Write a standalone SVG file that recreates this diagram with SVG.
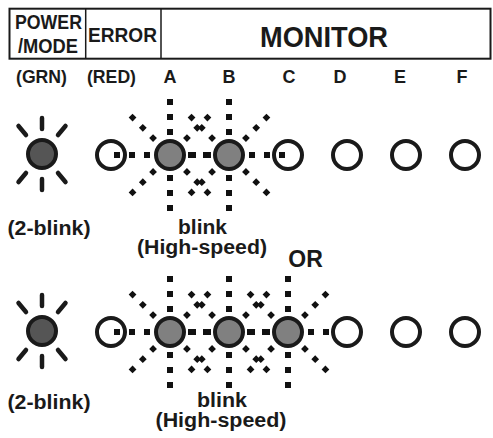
<svg xmlns="http://www.w3.org/2000/svg" xmlns:xlink="http://www.w3.org/1999/xlink" width="493" height="438" viewBox="0 0 493 438">
<style>
text{font-family:"Liberation Sans",Arial,Helvetica,sans-serif;font-weight:bold;fill:#1a1a1a}
.hv{stroke:#111;stroke-width:6;stroke-dasharray:6 9;fill:none}
.dg{stroke:#111;stroke-width:5.5;stroke-dasharray:5.5 9;fill:none}
.ray{stroke:#1a1a1a;stroke-width:4.5;stroke-linecap:round}
.pwr{fill:#555;stroke:#1a1a1a;stroke-width:4}
.on{fill:#808080;stroke:#1a1a1a;stroke-width:4}
.off{fill:none;stroke:#1a1a1a;stroke-width:4}
.offw{fill:#fff;stroke:#1a1a1a;stroke-width:4}
</style>
<defs>
<g id="burst">
<line class="hv" x1="20" y1="0" x2="56" y2="0"/>
<line class="hv" x1="-20" y1="0" x2="-56" y2="0"/>
<line class="hv" x1="0" y1="20" x2="0" y2="56"/>
<line class="hv" x1="0" y1="-20" x2="0" y2="-56"/>
<line class="dg" x1="15" y1="15" x2="40" y2="40"/>
<line class="dg" x1="-15" y1="15" x2="-40" y2="40"/>
<line class="dg" x1="15" y1="-15" x2="40" y2="-40"/>
<line class="dg" x1="-15" y1="-15" x2="-40" y2="-40"/>
</g>
<g id="rays">
<line class="ray" x1="0" y1="-25" x2="0" y2="-36"/>
<line class="ray" x1="0" y1="25" x2="0" y2="36"/>
<line class="ray" x1="-16" y1="-19" x2="-23.5" y2="-28"/>
<line class="ray" x1="16" y1="-19" x2="23.5" y2="-28"/>
<line class="ray" x1="-16" y1="19" x2="-23.5" y2="28"/>
<line class="ray" x1="16" y1="19" x2="23.5" y2="28"/>
</g>
</defs>

<g id="header">
<rect x="9.5" y="8.7" width="481" height="50" fill="none" stroke="#1a1a1a" stroke-width="2"/>
<line x1="85.7" y1="8.7" x2="85.7" y2="58.7" stroke="#1a1a1a" stroke-width="1.5"/>
<line x1="161" y1="8.7" x2="161" y2="58.7" stroke="#1a1a1a" stroke-width="1.5"/>
<text x="15" y="29" font-size="20" textLength="67" lengthAdjust="spacingAndGlyphs">POWER</text>
<text x="18" y="53" font-size="20" textLength="60" lengthAdjust="spacingAndGlyphs">/MODE</text>
<text x="88" y="42" font-size="20" textLength="69" lengthAdjust="spacingAndGlyphs">ERROR</text>
<text x="260" y="47" font-size="29" textLength="128" lengthAdjust="spacingAndGlyphs">MONITOR</text>
</g>

<g id="labels" font-size="18">
<text x="16" y="83" textLength="51" lengthAdjust="spacingAndGlyphs">(GRN)</text>
<text x="87" y="83" textLength="49" lengthAdjust="spacingAndGlyphs">(RED)</text>
<text x="170" y="83" text-anchor="middle">A</text>
<text x="229" y="83" text-anchor="middle">B</text>
<text x="289" y="83" text-anchor="middle">C</text>
<text x="340" y="83" text-anchor="middle">D</text>
<text x="400" y="83" text-anchor="middle">E</text>
<text x="462" y="83" text-anchor="middle">F</text>
</g>

<g id="row1">
<g id="r1-power"><use xlink:href="#rays" href="#rays" x="42" y="154"/><circle class="pwr" cx="42" cy="154" r="14"/></g>
<use xlink:href="#burst" href="#burst" x="170" y="155"/>
<use xlink:href="#burst" href="#burst" x="229" y="155"/>
<g id="r1-error"><circle class="off" cx="111" cy="155" r="14"/></g>
<g id="r1-A"><circle class="on" cx="170" cy="155" r="14"/></g>
<g id="r1-B"><circle class="on" cx="229" cy="155" r="14"/></g>
<g id="r1-C"><circle class="off" cx="288" cy="155" r="14"/></g>
<g id="r1-D"><circle class="off" cx="347" cy="155" r="14"/></g>
<g id="r1-E"><circle class="off" cx="406" cy="155" r="14"/></g>
<g id="r1-F"><circle class="off" cx="465" cy="155" r="14"/></g>
<text x="49" y="235" font-size="20" text-anchor="middle" textLength="83" lengthAdjust="spacingAndGlyphs">(2-blink)</text>
<text x="202.5" y="234" font-size="20" text-anchor="middle" textLength="49" lengthAdjust="spacingAndGlyphs">blink</text>
<text x="202" y="254" font-size="20" text-anchor="middle" textLength="130" lengthAdjust="spacingAndGlyphs">(High-speed)</text>
</g>

<text x="305.5" y="267" font-size="23" text-anchor="middle">OR</text>

<g id="row2">
<g id="r2-power"><use xlink:href="#rays" href="#rays" x="42" y="331"/><circle class="pwr" cx="42" cy="331" r="14"/></g>
<use xlink:href="#burst" href="#burst" x="170" y="332"/>
<use xlink:href="#burst" href="#burst" x="229" y="332"/>
<use xlink:href="#burst" href="#burst" x="288" y="332"/>
<g id="r2-error"><circle class="off" cx="111" cy="332" r="14"/></g>
<g id="r2-A"><circle class="on" cx="170" cy="332" r="14"/></g>
<g id="r2-B"><circle class="on" cx="229" cy="332" r="14"/></g>
<g id="r2-C"><circle class="on" cx="288" cy="332" r="14"/></g>
<g id="r2-D"><circle class="offw" cx="347" cy="332" r="14"/></g>
<g id="r2-E"><circle class="off" cx="406" cy="332" r="14"/></g>
<g id="r2-F"><circle class="off" cx="465" cy="332" r="14"/></g>
<text x="49" y="409" font-size="20" text-anchor="middle" textLength="83" lengthAdjust="spacingAndGlyphs">(2-blink)</text>
<text x="222" y="407" font-size="20" text-anchor="middle" textLength="50" lengthAdjust="spacingAndGlyphs">blink</text>
<text x="221" y="427" font-size="20" text-anchor="middle" textLength="131" lengthAdjust="spacingAndGlyphs">(High-speed)</text>
</g>

<g id="connectors"/>
</svg>
